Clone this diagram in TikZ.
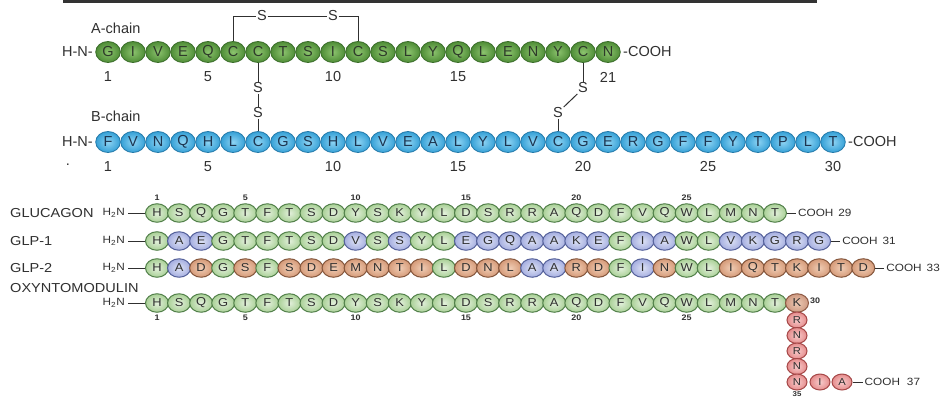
\documentclass[tikz,border=0pt]{standalone}
\usepackage{fontspec}
\setmainfont{Liberation Sans}
\newfontfamily\botfont[FakeStretch=1.12]{Liberation Sans}
\usetikzlibrary{shapes.geometric}
\definecolor{aIn}{HTML}{8CC36E}\definecolor{aOut}{HTML}{4E8C36}\definecolor{aDr}{HTML}{3A6D2A}\definecolor{aTx}{HTML}{2E3A2A}
\definecolor{bIn}{HTML}{8DD3F3}\definecolor{bOut}{HTML}{35A0D6}\definecolor{bDr}{HTML}{2479A9}\definecolor{bTx}{HTML}{1D3550}
\definecolor{gIn}{HTML}{E3F0DC}\definecolor{gOut}{HTML}{A9D096}\definecolor{gDr}{HTML}{52804A}
\definecolor{uIn}{HTML}{DDE2F5}\definecolor{uOut}{HTML}{A5AEE0}\definecolor{uDr}{HTML}{55619A}
\definecolor{oIn}{HTML}{F0CDB5}\definecolor{oOut}{HTML}{D59A78}\definecolor{oDr}{HTML}{84563C}
\definecolor{pIn}{HTML}{F8CCCC}\definecolor{pOut}{HTML}{E58C8C}\definecolor{pDr}{HTML}{A54848}
\definecolor{kIn}{HTML}{ECCAB5}\definecolor{kOut}{HTML}{CF9A82}\definecolor{kDr}{HTML}{8E5A45}
\definecolor{tTx}{HTML}{303030}
\begin{document}
\begin{tikzpicture}[x=1pt,y=-1pt,
  topbead/.style={ellipse, minimum width=24.6pt, minimum height=21pt, inner sep=0pt, line width=0.8pt, font=\fontsize{14.5}{14.5}\selectfont},
  abead/.style={topbead, draw=aDr, inner color=aIn, outer color=aOut, text=aTx},
  bbead/.style={topbead, draw=bDr, inner color=bIn, outer color=bOut, text=bTx},
  sbead/.style={ellipse, minimum width=23pt, minimum height=18.5pt, inner sep=0pt, line width=1pt, font=\botfont\fontsize{11.5}{11.5}\selectfont, text=tTx},
  sb/.style={sbead, draw=#1Dr, inner color=#1In, outer color=#1Out},
  tb/.style={sb=#1, minimum width=20pt, minimum height=16pt, font=\botfont\fontsize{10}{10}\selectfont},
  lbl/.style={inner sep=0pt, font=\fontsize{14.5}{14.5}\selectfont, text=tTx},
  blbl/.style={inner sep=0pt, font=\botfont\fontsize{13}{13}\selectfont, text=tTx},
  cooh/.style={inner sep=0pt, font=\botfont\fontsize{10.5}{10.5}\selectfont, text=tTx},
  num/.style={inner sep=0pt, font=\botfont\bfseries\fontsize{8}{8}\selectfont, text=tTx},
  sss/.style={inner sep=0.6pt, font=\fontsize{14.5}{14.5}\selectfont, text=tTx},
  bond/.style={draw=tTx, line width=1pt},
  dashl/.style={draw=tTx, line width=0.9pt},
]
\fill[white] (0,0) rectangle (947,399);
\useasboundingbox (0,0) rectangle (947,399);
\draw[line width=3pt, draw=black!80] (63,1.5) -- (817,1.5);

% ---------- A-chain ----------
\foreach \r [count=\i] in {G,I,V,E,Q,C,C,T,S,I,C,S,L,Y,Q,L,E,N,Y,C,N}
  \node[abead] (a\i) at ({108+(\i-1)*25},52) {\r};
\node[lbl, anchor=east] (hnA) at (93,52) {H-N-};
\node[lbl, anchor=west] (coA) at (623,52) {-COOH};
\node[lbl, anchor=west] (achain) at (91,28) {A-chain};
\foreach \n in {1,5,10,15,21} \node[lbl] at (a\n |- 0,77) {\n};

% ---------- B-chain ----------
\foreach \r [count=\i] in {F,V,N,Q,H,L,C,G,S,H,L,V,E,A,L,Y,L,V,C,G,E,R,G,F,F,Y,T,P,L,T}
  \node[bbead] (b\i) at ({108+(\i-1)*25},142) {\r};
\node[lbl, anchor=east] (hnB) at (93,142) {H-N-};
\node[lbl, anchor=west] (coB) at (848,142) {-COOH};
\node[lbl, anchor=west] (bchain) at (91,116) {B-chain};
\foreach \n in {1,5,10,15,20,25,30} \node[lbl] at (b\n |- 0,167) {\n};
\node[lbl] (dot) at (68,165) {.};

% ---------- disulfide bridges ----------
\node[sss] (s1) at (262,16) {S};
\node[sss] (s2) at (333,16) {S};
\draw[bond] (a6.north) |- (s1.west);
\draw[bond] (s1.east) -- (s2.west);
\draw[bond] (s2.east) -| (a11.north);
\node[sss] (s3) at (258,88) {S};
\node[sss] (s4) at (258,113) {S};
\draw[bond] (a7.south) -- (s3.north);
\draw[bond] (s3.south) -- (s4.north);
\draw[bond] (s4.south) -- (b7.north);
\node[sss] (s5) at (583,88) {S};
\node[sss] (s6) at (558,113) {S};
\draw[bond] (a20.south) -- (s5.north);
\draw[bond] (s5.south west) -- (s6.north east);
\draw[bond] (s6.south) -- (b19.north);

% ---------- glucagon family ----------
\node[blbl, anchor=west] (lg) at (10,213) {GLUCAGON};
\node[blbl, anchor=west] (l1) at (10,241) {GLP-1};
\node[blbl, anchor=west] (l2) at (10,268) {GLP-2};
\node[blbl, anchor=west] (lo) at (10,288) {OXYNTOMODULIN};

\foreach \r [count=\i] in {H,S,Q,G,T,F,T,S,D,Y,S,K,Y,L,D,S,R,R,A,Q,D,F,V,Q,W,L,M,N,T}
  \node[sb=g] (g\i) at ({157+(\i-1)*22.07},213) {\r};
\foreach \r/\col [count=\i] in {H/g,A/u,E/u,G/g,T/g,F/g,T/g,S/g,D/g,V/u,S/g,S/u,Y/g,L/g,E/u,G/u,Q/u,A/u,A/u,K/u,E/u,F/g,I/u,A/u,W/g,L/g,V/u,K/u,G/u,R/u,G/u}
  \node[sb=\col] (p\i) at ({157+(\i-1)*22.07},241) {\r};
\foreach \r/\col [count=\i] in {H/g,A/u,D/o,G/g,S/o,F/g,S/o,D/o,E/o,M/o,N/o,T/o,I/o,L/g,D/o,N/o,L/o,A/u,A/u,R/o,D/o,F/g,I/u,N/o,W/g,L/g,I/o,Q/o,T/o,K/o,I/o,T/o,D/o}
  \node[sb=\col] (q\i) at ({157+(\i-1)*22.07},268) {\r};
\foreach \r [count=\i] in {H,S,Q,G,T,F,T,S,D,Y,S,K,Y,L,D,S,R,R,A,Q,D,F,V,Q,W,L,M,N,T}
  \node[sb=g] (o\i) at ({157+(\i-1)*22.07},303) {\r};
\node[sb=k] (o30) at (797,303) {K};
\foreach \r [count=\j from 31] in {R,N,R,N,N}
  \node[tb=p] (o\j) at ({797},{320+(\j-31)*15.5}) {\r};
\node[tb=p] (o36) at (820,382) {I};
\node[tb=p] (o37) at (842,382) {A};

\foreach \row/\y/\first in {hg/213/g1,h1/241/p1,h2/268/q1,ho/303/o1}{
  \node[cooh, anchor=east] (\row) at (125,\y) {H\textsubscript{2}N};
  \draw[dashl] ([xshift=3pt]\row.east) -- (\first.west);
}
\node[cooh, anchor=west] (cg) at ([xshift=11pt]g29.east) {COOH\hspace{5pt}29};
\draw[dashl] (g29.east) -- ([xshift=-2pt]cg.west);
\node[cooh, anchor=west] (c1) at ([xshift=11pt]p31.east) {COOH\hspace{5pt}31};
\draw[dashl] (p31.east) -- ([xshift=-2pt]c1.west);
\node[cooh, anchor=west] (c2) at ([xshift=11pt]q33.east) {COOH\hspace{5pt}33};
\draw[dashl] (q33.east) -- ([xshift=-2pt]c2.west);
\node[cooh, anchor=west] (c3) at ([xshift=12pt]o37.east) {COOH\hspace{7pt}37};
\draw[dashl] (o37.east) -- ([xshift=-2pt]c3.west);

\foreach \n in {1,5,10,15,20,25} \node[num] at (g\n |- 0,198) {\n};
\foreach \n in {1,5,10,15,20,25} \node[num] at (o\n |- 0,318) {\n};
\node[num, anchor=west] (n30) at (810,301) {30};
\node[num, font=\botfont\bfseries\fontsize{7}{7}\selectfont] (n35) at (797,394.5) {35};
\end{tikzpicture}
\end{document}
